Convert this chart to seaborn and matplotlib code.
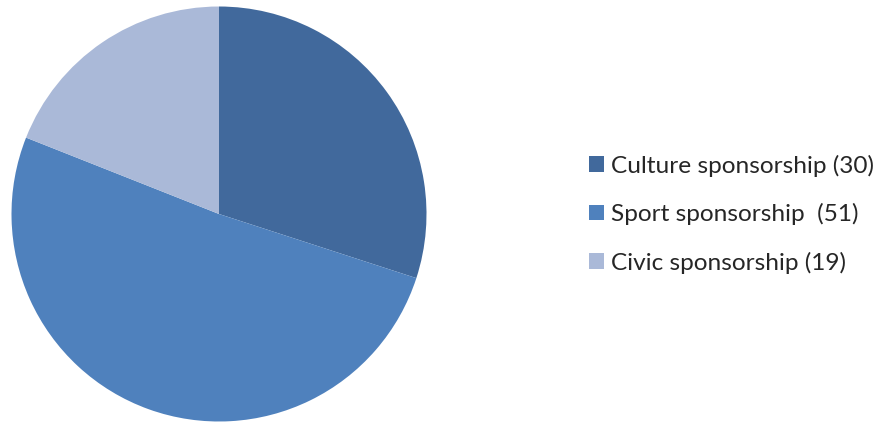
import matplotlib
matplotlib.use("Agg")
import matplotlib.pyplot as plt
import seaborn as sns
from matplotlib.patches import Patch

categories = ["Culture sponsorship (30)", "Sport sponsorship  (51)", "Civic sponsorship (19)"]
values = [30, 51, 19]
colors = ["#41699C", "#4F81BD", "#AAB9D8"]

sns.set_theme(style="white")
plt.rcParams["font.family"] = ["Lato", "DejaVu Sans"]

W, H = 880, 423
fig = plt.figure(figsize=(W / 100, H / 100), dpi=100)
fig.patch.set_facecolor("white")

cx, cy, r = 219, 214, 207.5
ax = fig.add_axes([(cx - r) / W, (H - cy - r) / H, 2 * r / W, 2 * r / H])
ax.pie(values, colors=colors, startangle=90, counterclock=False, radius=1,
       wedgeprops=dict(linewidth=0))
ax.set_xlim(-1, 1)
ax.set_ylim(-1, 1)
ax.set_aspect("equal")
ax.axis("off")

handles = [Patch(facecolor=c, edgecolor="none") for c in colors]
fig.legend(handles, categories, loc="center left",
           bbox_to_anchor=(589 / W, 1 - 214 / H), frameon=False,
           fontsize=17.6, handlelength=0.62, handleheight=0.62,
           handletextpad=0.3, labelspacing=1.08, borderpad=0,
           borderaxespad=0)

fig.savefig("out.png", dpi=100, facecolor="white")
